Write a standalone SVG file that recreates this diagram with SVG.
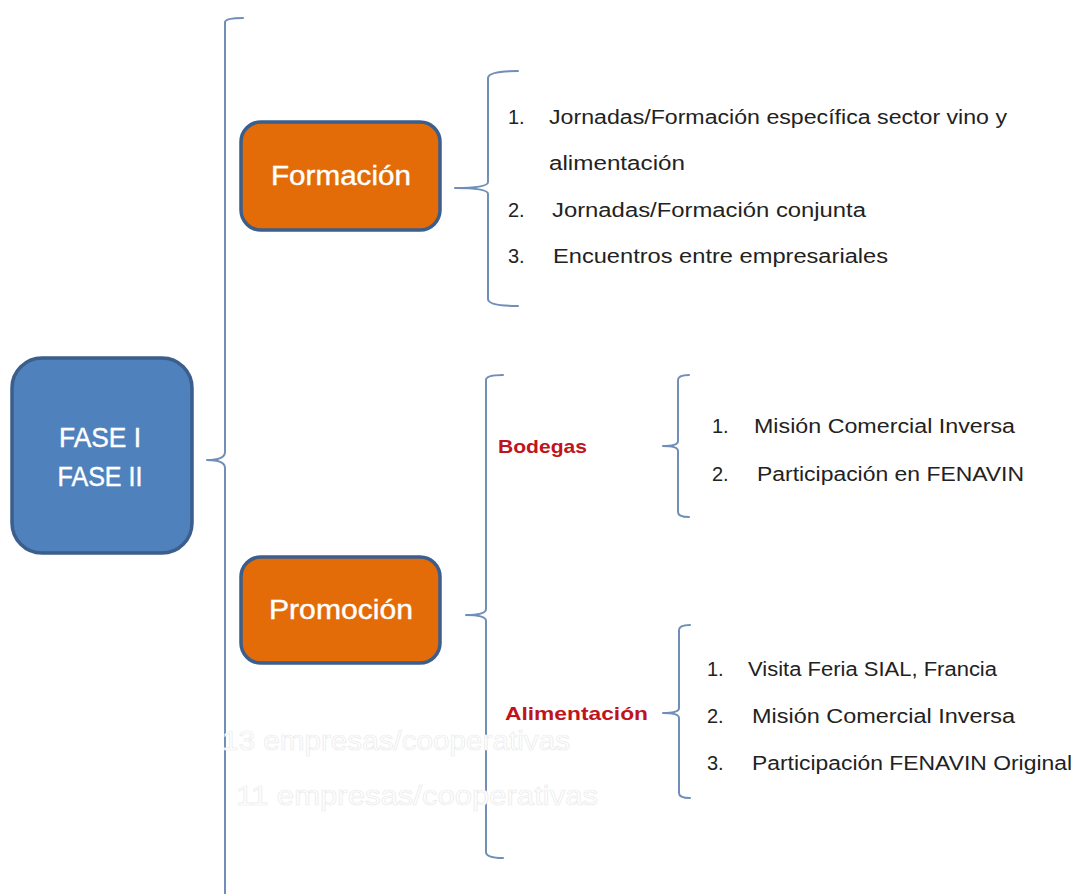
<svg xmlns="http://www.w3.org/2000/svg" width="1076" height="894" viewBox="0 0 1076 894">
<style>
.br{fill:none;stroke:#6f8fb8;stroke-width:2;stroke-linecap:round;stroke-linejoin:round}
.box{stroke:#3b5e8c;stroke-width:3.5}
.bt{font-family:"Liberation Sans",Arial,sans-serif;fill:#ffffff;font-size:27px;text-anchor:middle;stroke:#ffffff;stroke-width:0.4}
.lt{font-family:"Liberation Sans",Arial,sans-serif;fill:#222222;font-size:20px}
.rt{font-family:"Liberation Sans",Arial,sans-serif;fill:#c0141c;font-size:19px;font-weight:bold}
.gt{font-family:"Liberation Sans",Arial,sans-serif;fill:#ffffff;stroke:#ebebeb;stroke-width:0.7;font-size:27px}
</style>
<rect width="1076" height="894" fill="#ffffff"/>
<g id="connectors">
<path class="br" d="M243,18 Q226,18 225,22 L225,452 Q225,460 207,460 Q225,460 225,468 L225,894"/>
<path class="br" d="M518,71 Q488,71 488,78 L488,182 Q488,188 455,188 Q488,188 488,194 L488,299 Q488,306 518,306"/>
<path class="br" d="M503,375 Q486,375 486,380 L486,609 Q486,615 466,615 Q486,615 486,621 L486,852 Q486,858 503,858"/>
<path class="br" d="M689,375 Q678,375 678,380 L678,441 Q678,446 663,446 Q678,446 678,451 L678,512 Q678,517 689,517"/>
<path class="br" d="M690,625 Q679,625 679,630 L679,708 Q679,713 663,713 Q679,713 679,718 L679,793 Q679,798 690,798"/>
</g>
<g id="ghost">
<text class="gt" x="222" y="750" textLength="348" lengthAdjust="spacingAndGlyphs">13 empresas/cooperativas</text>
<text class="gt" x="236" y="805" textLength="362" lengthAdjust="spacingAndGlyphs">11 empresas/cooperativas</text>
</g>
<g id="fase">
<rect class="box" x="12" y="358" width="180" height="195" rx="30" fill="#4f81bd"/>
<text class="bt" x="100" y="447" textLength="82" lengthAdjust="spacingAndGlyphs">FASE I</text>
<text class="bt" x="100" y="486" textLength="85" lengthAdjust="spacingAndGlyphs">FASE II</text>
</g>
<g id="formacion">
<rect class="box" x="241" y="122" width="199" height="108" rx="20" fill="#e36c09"/>
<text class="bt" x="341" y="185" textLength="140" lengthAdjust="spacingAndGlyphs">Formación</text>
</g>
<g id="promocion">
<rect class="box" x="241" y="557" width="199" height="106" rx="20" fill="#e36c09"/>
<text class="bt" x="341" y="619" textLength="144" lengthAdjust="spacingAndGlyphs">Promoción</text>
</g>
<g id="formacion-items">
<text class="lt" x="508" y="124">1.</text>
<text class="lt" x="549" y="124" textLength="458" lengthAdjust="spacingAndGlyphs">Jornadas/Formación específica sector vino y</text>
<text class="lt" x="549" y="170" textLength="136" lengthAdjust="spacingAndGlyphs">alimentación</text>
<text class="lt" x="508" y="217">2.</text>
<text class="lt" x="552" y="217" textLength="314" lengthAdjust="spacingAndGlyphs">Jornadas/Formación conjunta</text>
<text class="lt" x="508" y="263">3.</text>
<text class="lt" x="553" y="263" textLength="335" lengthAdjust="spacingAndGlyphs">Encuentros entre empresariales</text>
</g>
<g id="bodegas">
<text class="rt" x="498" y="453" textLength="89" lengthAdjust="spacingAndGlyphs">Bodegas</text>
</g>
<g id="bodegas-items">
<text class="lt" x="712" y="433">1.</text>
<text class="lt" x="754" y="433" textLength="261" lengthAdjust="spacingAndGlyphs">Misión Comercial Inversa</text>
<text class="lt" x="712" y="481">2.</text>
<text class="lt" x="757" y="481" textLength="267" lengthAdjust="spacingAndGlyphs">Participación  en FENAVIN</text>
</g>
<g id="alimentacion">
<text class="rt" x="505" y="720" textLength="143" lengthAdjust="spacingAndGlyphs">Alimentación</text>
</g>
<g id="alimentacion-items">
<text class="lt" x="707" y="676">1.</text>
<text class="lt" x="748" y="676" textLength="249" lengthAdjust="spacingAndGlyphs">Visita Feria SIAL, Francia</text>
<text class="lt" x="707" y="723">2.</text>
<text class="lt" x="752" y="723" textLength="263" lengthAdjust="spacingAndGlyphs">Misión Comercial Inversa</text>
<text class="lt" x="707" y="770">3.</text>
<text class="lt" x="752" y="770" textLength="320" lengthAdjust="spacingAndGlyphs">Participación FENAVIN Original</text>
</g>
</svg>
